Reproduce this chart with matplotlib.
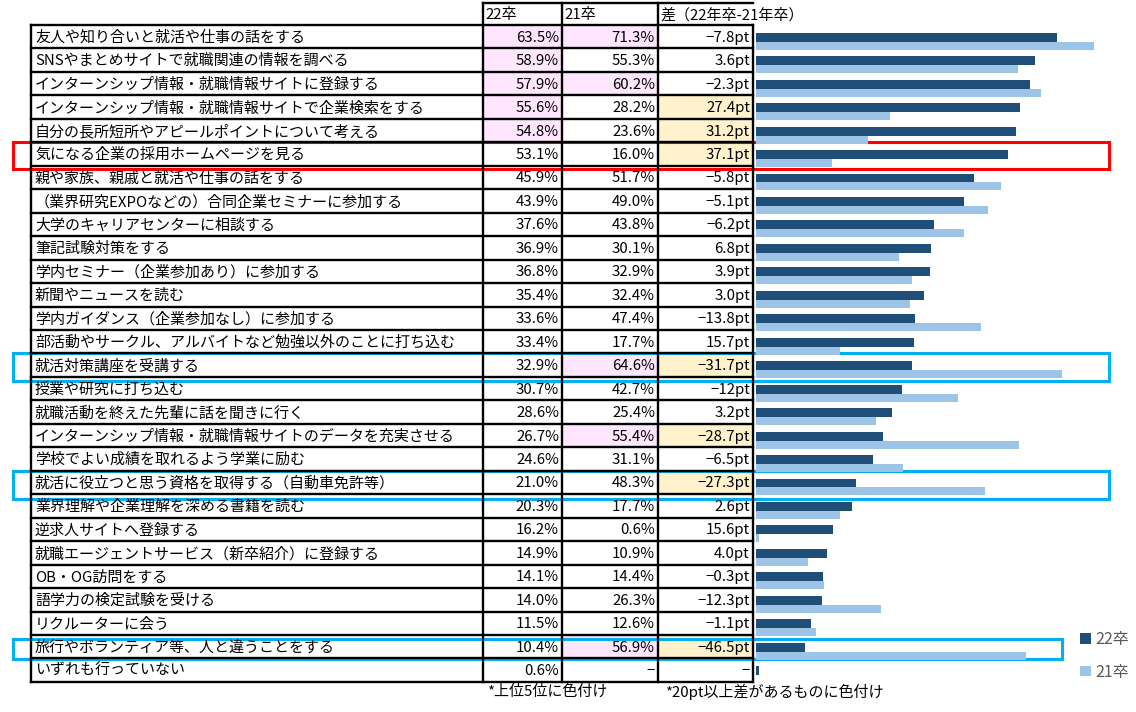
import matplotlib
matplotlib.use("Agg")
import matplotlib.pyplot as plt
from matplotlib.patches import Rectangle
import numpy as np

plt.rcParams['font.family'] = ['Noto Sans CJK JP', 'DejaVu Sans']

# --- data -------------------------------------------------------------
items = [
    '友人や知り合いと就活や仕事の話をする',
    'SNSやまとめサイトで就職関連の情報を調べる',
    'インターンシップ情報・就職情報サイトに登録する',
    'インターンシップ情報・就職情報サイトで企業検索をする',
    '自分の長所短所やアピールポイントについて考える',
    '気になる企業の採用ホームページを見る',
    '親や家族、親戚と就活や仕事の話をする',
    '（業界研究EXPOなどの）合同企業セミナーに参加する',
    '大学のキャリアセンターに相談する',
    '筆記試験対策をする',
    '学内セミナー（企業参加あり）に参加する',
    '新聞やニュースを読む',
    '学内ガイダンス（企業参加なし）に参加する',
    '部活動やサークル、アルバイトなど勉強以外のことに打ち込む',
    '就活対策講座を受講する',
    '授業や研究に打ち込む',
    '就職活動を終えた先輩に話を聞きに行く',
    'インターンシップ情報・就職情報サイトのデータを充実させる',
    '学校でよい成績を取れるよう学業に励む',
    '就活に役立つと思う資格を取得する（自動車免許等）',
    '業界理解や企業理解を深める書籍を読む',
    '逆求人サイトへ登録する',
    '就職エージェントサービス（新卒紹介）に登録する',
    'OB・OG訪問をする',
    '語学力の検定試験を受ける',
    'リクルーターに会う',
    '旅行やボランティア等、人と違うことをする',
    'いずれも行っていない',
]
v22 = [63.5, 58.9, 57.9, 55.6, 54.8, 53.1, 45.9, 43.9, 37.6, 36.9, 36.8, 35.4,
       33.6, 33.4, 32.9, 30.7, 28.6, 26.7, 24.6, 21.0, 20.3, 16.2, 14.9, 14.1,
       14.0, 11.5, 10.4, 0.6]
v21 = [71.3, 55.3, 60.2, 28.2, 23.6, 16.0, 51.7, 49.0, 43.8, 30.1, 32.9, 32.4,
       47.4, 17.7, 64.6, 42.7, 25.4, 55.4, 31.1, 48.3, 17.7, 0.6, 10.9, 14.4,
       26.3, 12.6, 56.9, None]
diff_labels = ['−7.8pt', '3.6pt', '−2.3pt', '27.4pt', '31.2pt', '37.1pt', '−5.8pt',
               '−5.1pt', '−6.2pt', '6.8pt', '3.9pt', '3.0pt', '−13.8pt', '15.7pt',
               '−31.7pt', '−12pt', '3.2pt', '−28.7pt', '−6.5pt', '−27.3pt', '2.6pt',
               '15.6pt', '4.0pt', '−0.3pt', '−12.3pt', '−1.1pt', '−46.5pt', '−']
col_headers = ['22卒', '21卒', '差（22年卒-21年卒）']
notes = ['*上位5位に色付け', '*20pt以上差があるものに色付け']
red_rows = [5]
blue_rows = [14, 19, 26]

# --- layout (pixels) ---------------------------------------------------
W, H = 1136, 712
x_left, x_c1, x_c2, x_c3, x_right = 31, 483, 562, 658, 753
y_head_top, y_top = 3, 25
pitch = 23.46
n = len(items)
y_bottom = y_top + n * pitch

PINK = '#FFE6FF'
YELLOW = '#FFF2CC'
DARK = '#1F4E79'
LIGHT = '#9DC3E6'
FS = 10.8

fig = plt.figure(figsize=(W / 100, H / 100), dpi=100)
ax = fig.add_axes([0, 0, 1, 1])
ax.set_xlim(0, W)
ax.set_ylim(H, 0)
ax.axis('off')

v21_arr = np.array([np.nan if v is None else v for v in v21])
top22 = set(np.argsort(v22)[::-1][:5])
top21 = set(np.argsort(np.nan_to_num(v21_arr, nan=-1))[::-1][:5])
big_diff = set(i for i in range(n) if v21[i] is not None and abs(v22[i] - v21[i]) >= 20)

# cell fills
for i in range(n):
    y0 = y_top + i * pitch
    if i in top22:
        ax.add_patch(Rectangle((x_c1, y0), x_c2 - x_c1, pitch, color=PINK, lw=0))
    if i in top21:
        ax.add_patch(Rectangle((x_c2, y0), x_c3 - x_c2, pitch, color=PINK, lw=0))
    if i in big_diff:
        ax.add_patch(Rectangle((x_c3, y0), x_right - x_c3, pitch, color=YELLOW, lw=0))

# grid lines
lw = 1.7
for i in range(n + 1):
    y = y_top + i * pitch
    ax.plot([x_left, x_right], [y, y], color='black', lw=lw, solid_capstyle='projecting')
ax.plot([x_c1, x_right], [y_head_top, y_head_top], color='black', lw=lw)
for x in [x_left, x_right]:
    ax.plot([x, x], [y_top, y_bottom], color='black', lw=lw)
for x in [x_c1, x_c2, x_c3]:
    ax.plot([x, x], [y_head_top, y_bottom], color='black', lw=lw)

# header texts
for x, t in zip([x_c1, x_c2, x_c3], col_headers):
    ax.text(x + 2, (y_head_top + y_top) / 2 + 1, t, fontsize=FS, ha='left', va='center')

# rows
for i in range(n):
    yc = y_top + (i + 0.5) * pitch + 1
    ax.text(x_left + 4, yc, items[i], fontsize=FS, ha='left', va='center')
    ax.text(x_c2 - 3, yc, f'{v22[i]:.1f}%', fontsize=FS, ha='right', va='center')
    t21 = '−' if v21[i] is None else f'{v21[i]:.1f}%'
    ax.text(x_c3 - 3, yc, t21, fontsize=FS, ha='right', va='center')
    ax.text(x_right - 3, yc, diff_labels[i], fontsize=FS, ha='right', va='center')

# notes
ax.text(487, 692, notes[0], fontsize=FS, ha='left', va='center')
ax.text(665, 692, notes[1], fontsize=FS, ha='left', va='center')

# highlight boxes
for r in red_rows:
    y0 = y_top + r * pitch
    ax.add_patch(Rectangle((13, y0), 1109 - 13, 27, fill=False, ec='#FF0000', lw=2.2))
for r, right, hgt in zip(blue_rows, [1109, 1109, 1062], [28, 28, 20]):
    y0 = y_top + r * pitch + (0 if r != 26 else 4)
    ax.add_patch(Rectangle((13, y0), right - 13, hgt, fill=False, ec='#00B0F0', lw=2.2))

# --- bars ---------------------------------------------------------------
bx0, by0 = 756, y_top + 5
px_per_pct = 4.74
bw = W - bx0
bax = fig.add_axes([bx0 / W, 1 - (by0 + n * pitch) / H, bw / W, n * pitch / H])
bax.set_xlim(0, bw / px_per_pct)
bax.set_ylim(n - 0.5, -0.5)
bax.axis('off')
pos = np.arange(n)
h1 = bax.barh(pos - 0.19, v22, height=0.38, color=DARK, label='22卒')
h2 = bax.barh(pos + 0.17, np.nan_to_num(v21_arr), height=0.34, color=LIGHT, label='21卒')

leg = fig.legend(handles=[h1, h2], loc='upper left',
                 bbox_to_anchor=(1066 / W, 1 - 617 / H), frameon=False,
                 fontsize=11.5, handlelength=0.65, handleheight=0.65,
                 handletextpad=0.3, labelspacing=0.95)
for t in leg.get_texts():
    t.set_color('#595959')

fig.savefig('out.png', dpi=100)
